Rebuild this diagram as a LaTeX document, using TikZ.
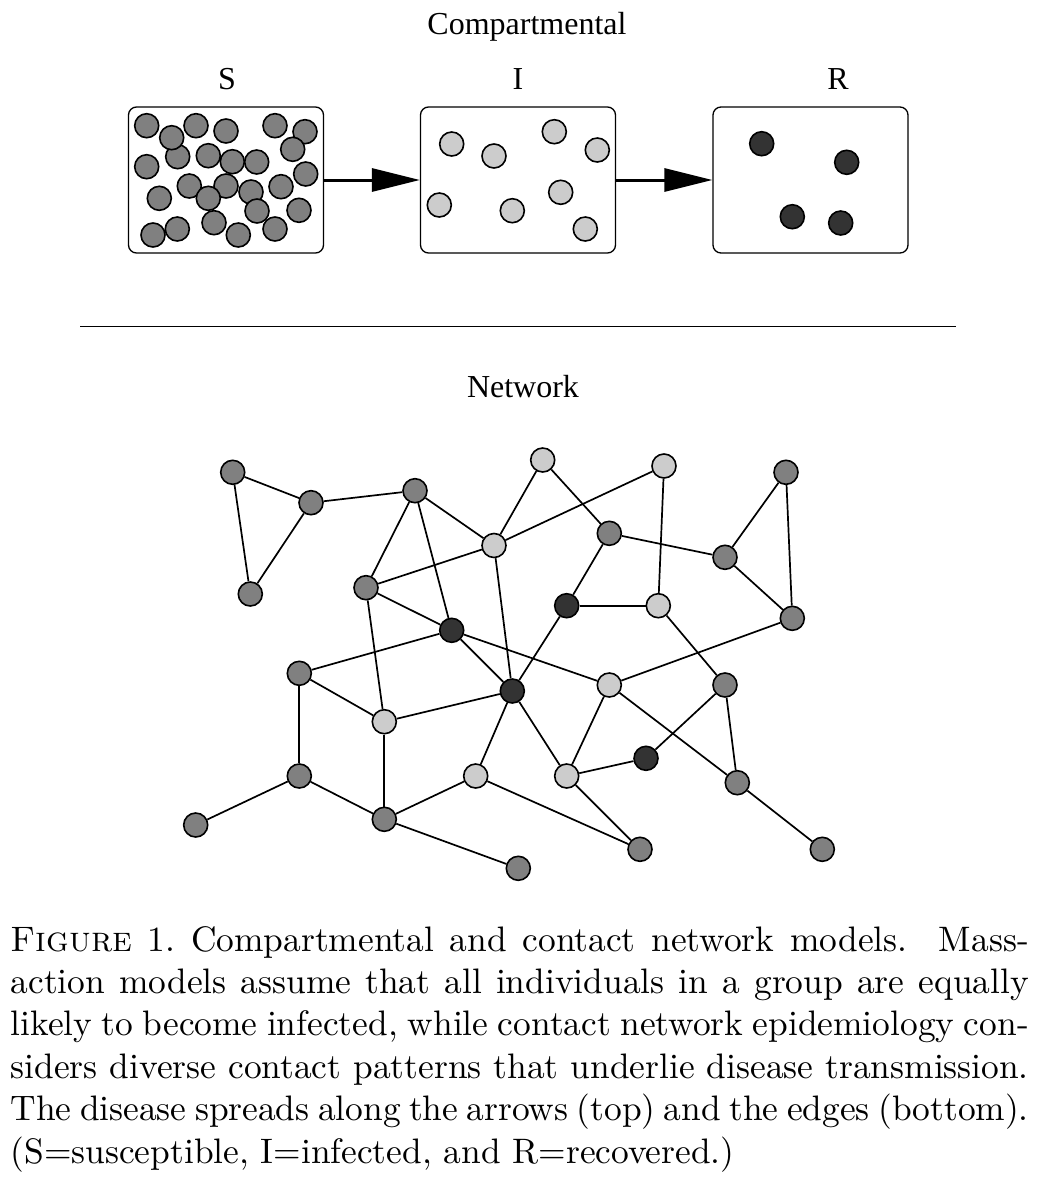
\documentclass[tikz,border=0pt]{standalone}
\usepackage{fontspec}
\newfontfamily\timesf{Liberation Serif}
\usetikzlibrary{arrows.meta}
\definecolor{susc}{HTML}{808080}
\definecolor{infc}{HTML}{CCCCCC}
\definecolor{reco}{HTML}{333333}
\begin{document}
\begin{tikzpicture}[x=1pt,y=-1pt,
  dot/.style={circle, draw=black, line width=1.6pt, minimum size=24pt, inner sep=0pt},
  sdot/.style={dot, fill=susc},
  idot/.style={dot, fill=infc},
  rdot/.style={dot, fill=reco},
  cbox/.style={draw, rounded corners=8pt, line width=1.3pt, minimum width=195pt, minimum height=146pt, inner sep=0pt},
  lbl/.style={font=\timesf\fontsize{32}{38}\selectfont, anchor=base, inner sep=0pt},
  link/.style={line width=1.7pt},
  flow/.style={line width=3pt, -{Triangle[length=48pt,width=23pt]}}]
\useasboundingbox (0,0) rectangle (1046,1184);

% titles
\node[lbl] (tComp) at (527,34) {Compartmental};
\node[lbl] (tS) at (227,89) {S};
\node[lbl] (tI) at (518,89) {I};
\node[lbl] (tR) at (838,89) {R};
\node[lbl] (tNet) at (523,397) {Network};

% compartments
\node[cbox] (Sbox) at (226,180) {};
\node[cbox] (Ibox) at (518,180) {};
\node[cbox] (Rbox) at (810.5,180) {};
\draw[flow] (Sbox.east) -- (Ibox.west);
\draw[flow] (Ibox.east) -- (Rbox.west);

\foreach \px/\py [count=\k] in {146.7/125.7, 196/125.7, 226/131, 275/125.7, 305/131.7, 292.7/149.3,
  177.7/156.7, 171.7/137.7, 208.3/155.7, 232.3/161.7, 256.7/162, 146.7/166.7, 305.7/174,
  189.3/186, 226/186, 251/192, 281/186.7, 159.3/198.3, 208.3/198.3, 257/211, 299/210.3,
  177.3/229, 214/222.7, 153/235, 238.3/235, 275/229}
  \node[sdot] (s\k) at (\px,\py) {};
\foreach \px/\py [count=\k] in {451.7/144, 494/156, 554.3/131.7, 597.3/150, 439.3/205,
  512.3/210.7, 560.7/192.3, 585.3/229}
  \node[idot] (i\k) at (\px,\py) {};
\foreach \px/\py [count=\k] in {761.7/143.7, 846.7/162.3, 792.3/216.7, 840.7/223}
  \node[rdot] (r\k) at (\px,\py) {};

% separator
\coordinate (ruleL) at (80,326.5);
\coordinate (ruleR) at (956,326.5);
\draw[line width=1.8pt] (ruleL) -- (ruleR);

% network nodes
\node[sdot] (nA) at (232.7,472.3) {};
\node[sdot] (nB) at (311,502.7) {};
\node[sdot] (nC) at (250.3,594) {};
\node[sdot] (nD) at (415,490.7) {};
\node[idot] (nE) at (494,545.5) {};
\node[sdot] (nF) at (366,587.7) {};
\node[rdot] (nG) at (451.7,630.3) {};
\node[idot] (nH) at (542.7,460) {};
\node[idot] (nJ) at (664,466) {};
\node[sdot] (nK) at (786,472.3) {};
\node[sdot] (nL) at (609.3,533.3) {};
\node[sdot] (nM) at (725,557.3) {};
\node[rdot] (nN) at (566.7,605.7) {};
\node[idot] (nO) at (658.3,605.7) {};
\node[sdot] (nP) at (792.3,618.3) {};
\node[sdot] (nQ) at (299.3,673.3) {};
\node[idot] (nR) at (384.3,721.7) {};
\node[sdot] (nS) at (299.3,776) {};
\node[sdot] (nT) at (195.7,825) {};
\node[sdot] (nU) at (384.3,819.3) {};
\node[idot] (nV) at (475.7,776) {};
\node[rdot] (nW) at (512.3,691) {};
\node[idot] (nX) at (609.3,685) {};
\node[sdot] (nY) at (725,685) {};
\node[idot] (nZ) at (566.7,776) {};
\node[rdot] (nAA) at (646,758.3) {};
\node[sdot] (nAB) at (737.3,782.7) {};
\node[sdot] (nAC) at (640,849.3) {};
\node[sdot] (nAD) at (822.3,849.3) {};
\node[sdot] (nAE) at (518.3,868.3) {};

\foreach \a/\b in {A/B, A/C, B/C, B/D, D/F, D/G, D/E, E/F, F/G, F/R, G/Q, G/W, G/X,
  E/H, E/J, E/W, H/L, L/M, L/N, J/O, K/M, K/P, M/P, N/O, N/W, O/Y, P/X, Q/R, Q/S,
  R/W, R/U, S/T, S/U, U/V, U/AE, V/W, V/AC, W/Z, X/Z, Z/AA, Z/AC, AA/Y, X/AB, Y/AB, AB/AD}
  \draw[link] (n\a) -- (n\b);

% caption
\node[anchor=base west, scale=3.54, transform shape, text width=287.6pt, align=justify, inner sep=0pt] (cap) at (10,951)
{\textsc{Figure} 1.\ Compartmental and contact network models.\ \ Mass-\linebreak
action models assume that all individuals in a group are equally\linebreak
likely to become infected, while contact network epidemiology con-\linebreak
siders diverse contact patterns that underlie disease transmission.\linebreak
The disease spreads along the arrows (top) and the edges (bottom).\linebreak
(S=susceptible, I=infected, and R=recovered.)};
\end{tikzpicture}
\end{document}
